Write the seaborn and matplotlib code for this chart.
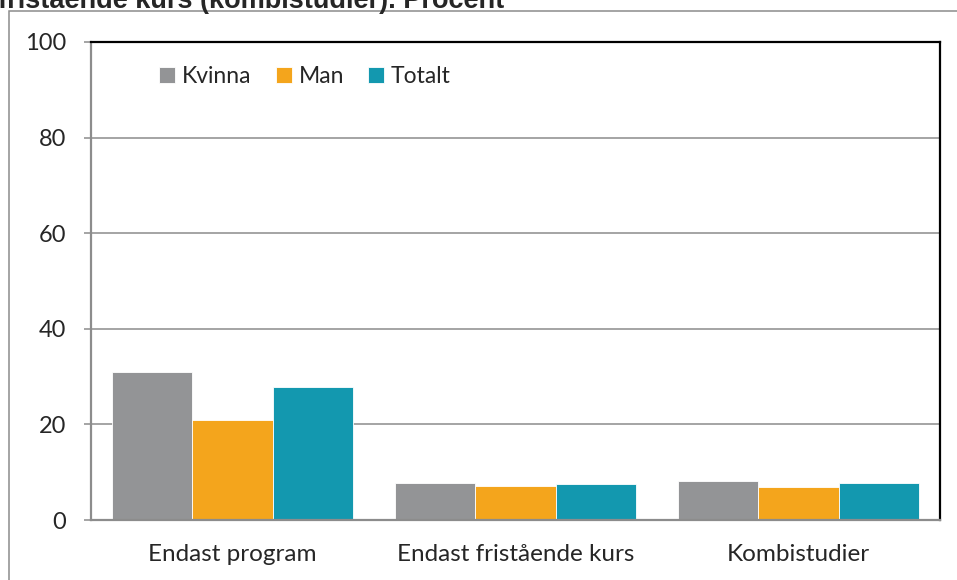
import pandas as pd
import matplotlib
matplotlib.use("Agg")
import matplotlib.pyplot as plt
import seaborn as sns
from matplotlib.patches import Rectangle

categories = ["Endast program", "Endast fristående kurs", "Kombistudier"]
kvinna = [31.0, 7.7, 8.1]
man = [21.0, 7.2, 7.0]
totalt = [27.8, 7.6, 7.7]
series_names = ["Kvinna", "Man", "Totalt"]
colors = ["#939496", "#F4A51C", "#1398AF"]
yticks = [0, 20, 40, 60, 80, 100]
title = "fristående kurs (kombistudier). Procent"

rows = []
for name, vals in zip(series_names, [kvinna, man, totalt]):
    for cat, v in zip(categories, vals):
        rows.append({"kategori": cat, "kön": name, "procent": v})
df = pd.DataFrame(rows)

sns.set_style("white")
plt.rcParams["font.family"] = ["Lato", "DejaVu Sans"]

fig = plt.figure(figsize=(9.57, 5.80), dpi=100)
ax = fig.add_axes([0.0951, 0.1034, 0.8871, 0.8242])

sns.barplot(data=df, x="kategori", y="procent", hue="kön", order=categories,
            hue_order=series_names, palette=colors, width=0.85, gap=0,
            edgecolor="white", linewidth=0.6, saturation=1, ax=ax)

ax.set_ylim(0, 100)
ax.set_yticks(yticks)
ax.set_yticklabels([str(t) for t in yticks])
ax.yaxis.grid(True, color="#8c8c8c", linewidth=1.1)
ax.set_axisbelow(True)
ax.set_xlabel("")
ax.set_ylabel("")

for side in ["top", "right"]:
    ax.spines[side].set_visible(True)
    ax.spines[side].set_color("black")
    ax.spines[side].set_linewidth(1.6)
for side in ["left", "bottom"]:
    ax.spines[side].set_color("#8c8c8c")
    ax.spines[side].set_linewidth(1.6)

ax.tick_params(axis="y", length=5, width=1.1, color="#8c8c8c", pad=13,
               labelsize=17, left=True)
ax.tick_params(axis="x", length=0, pad=17, labelsize=17.5)

leg = ax.legend(loc="upper left", bbox_to_anchor=(0.0695, 0.968), ncol=3,
                frameon=False, fontsize=16.5, handlelength=0.7, handleheight=0.7,
                handletextpad=0.3, columnspacing=1.05, borderaxespad=0)

# outer frame of the original chart area
fig.patches.append(Rectangle((9 / 957, -0.1), 1.2, 1 - 11 / 580 + 0.1,
                             transform=fig.transFigure, fill=False,
                             edgecolor="#8c8c8c", linewidth=1.1))

fig.text(-0.002, 1 - 8 / 580, title, fontsize=19.5, fontweight="bold",
         family=["Liberation Sans", "DejaVu Sans"], ha="left", va="baseline")

fig.savefig("out.png", dpi=100)
